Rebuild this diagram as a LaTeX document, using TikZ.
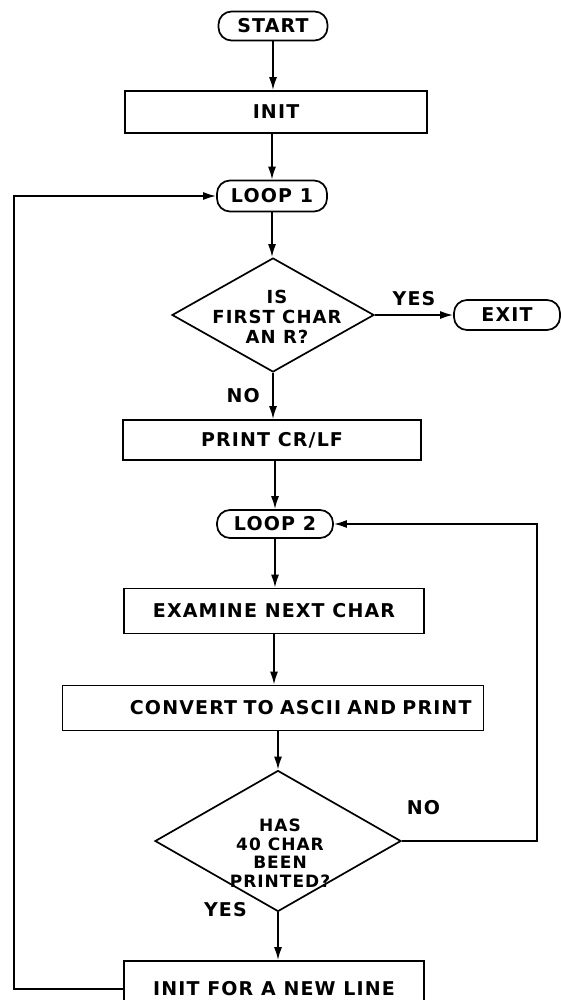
\documentclass[tikz,border=0pt]{standalone}
\usepackage{fontspec}
\setmainfont{DejaVu Sans}[LetterSpace=6]
\usetikzlibrary{positioning, shapes.geometric, arrows.meta}

\begin{document}
\begin{tikzpicture}[x=1pt, y=-1pt,
    every node/.style={font=\bfseries\fontsize{19}{22}\selectfont},
    term/.style={draw, line width=1.7pt, rounded corners=13pt, minimum height=29pt, inner sep=0pt},
    proc/.style={draw, line width=1.7pt, minimum height=43pt, inner sep=0pt},
    decision/.style={draw, diamond, line width=1.7pt, inner sep=0pt},
    qtext/.style={align=center, font=\bfseries\fontsize{17}{18.5}\selectfont},
    flow/.style={line width=1.7pt, -{Latex[length=13pt, width=8pt]}}]

    \useasboundingbox (0,0) rectangle (561,1000);

    % Main column
    \node[term, minimum width=109pt] (start) at (273,26) {START};
    \node[proc, minimum width=302pt, minimum height=42pt] (init) at (276,112) {INIT};
    \node[term, minimum width=110pt, minimum height=31pt] (loop1) at (272,196) {LOOP 1};

    % First test
    \node[decision, minimum width=202pt, minimum height=114pt] (first) at (273,315) {};
    \node[qtext, font=\bfseries\fontsize{18}{20}\selectfont] (firsttxt) at (277,317) {IS\\FIRST CHAR\\AN R?};
    \node[term, minimum width=106pt, minimum height=30pt] (exit) at (507,315) {EXIT};

    \node[proc, minimum width=298pt, minimum height=40pt] (crlf) at (272,440) {PRINT CR/LF};
    \node[term, minimum width=116pt, minimum height=28pt] (loop2) at (275,524) {LOOP 2};
    \node[proc, minimum width=300pt, minimum height=45pt] (examine) at (274,611) {EXAMINE NEXT CHAR};
    \node[proc, text width=397pt, inner xsep=12pt, align=right, minimum height=45pt] (convert) at (273,708) {CONVERT TO ASCII AND PRINT};

    % Second test
    \node[decision, minimum width=246pt, minimum height=141pt] (count) at (278,841) {};
    \node[qtext] (counttxt) at (280,853) {HAS\\40 CHAR\\BEEN\\PRINTED?};

    \node[proc, minimum width=300pt, minimum height=56pt] (newline) at (274,989) {INIT FOR A NEW LINE};

    % Loop-back corners
    \coordinate (lt) at (14,196);
    \coordinate (rt) at (537,524);

    % Connectors
    \draw[flow] (start) -- (start |- init.north);
    \draw[flow] (init.south -| loop1) -- (loop1);
    \draw[flow] (loop1) -- (loop1 |- first.north);
    \draw[flow] (first.east) -- (exit.west)
        node[midway, above=5pt] {YES};
    \draw[flow] (first.south) -- (first.south |- crlf.north)
        node[midway, left=9pt] {NO};
    \draw[flow] (crlf.south -| loop2) -- (loop2);
    \draw[flow] (loop2) -- (loop2 |- examine.north);
    \draw[flow] (examine) -- (examine |- convert.north);
    \draw[flow] (convert.south -| count.north) -- (count.north);
    \draw[flow] (count.south) -- (count.south |- newline.north)
        node[pos=0, left=27pt, yshift=3pt] {YES};

    \draw[flow] (count.east) -| node[pos=0.08, above=22pt] {NO} (rt) -- (loop2.east);
    \draw[flow] (newline.west) -| (lt) -- (loop1.west);

\end{tikzpicture}
\end{document}
